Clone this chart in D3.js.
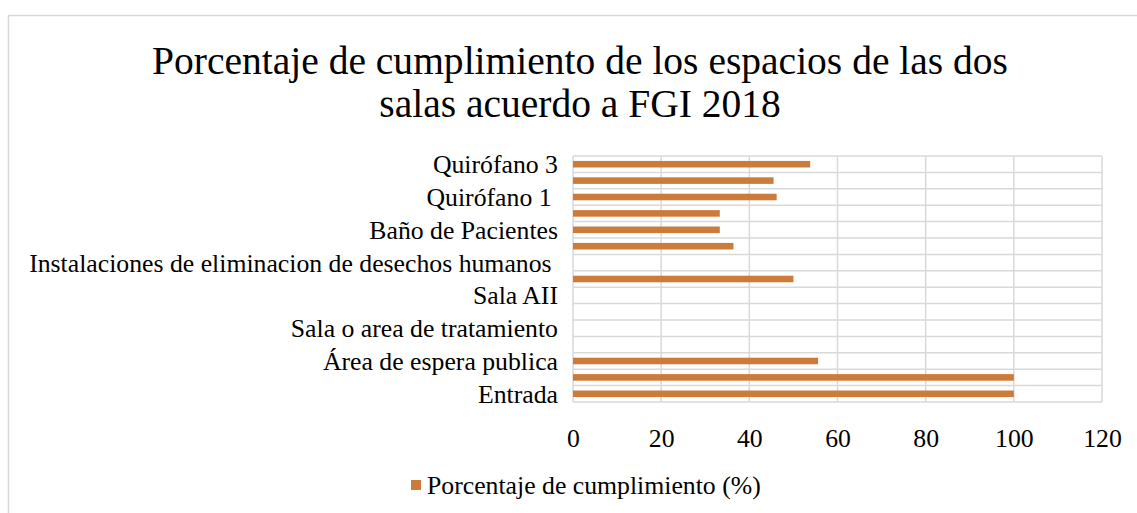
<!DOCTYPE html>
<html>
<head>
<meta charset="utf-8">
<script src="https://d3js.org/d3.v7.min.js"></script>
<style>
  body { margin: 0; background: #fff; }
  svg text { font-family: "Liberation Serif", "DejaVu Serif", serif; fill: #000; white-space: pre; }
</style>
</head>
<body>
<div id="chart"></div>
<script>
// categories bottom to top (alternate names are hidden by the axis, as in the original)
var categories = ["Entrada", "", "Área de espera publica", "", "Sala o area de tratamiento", "",
  "Sala AII", "", "Instalaciones de eliminacion de desechos humanos ", "", "Baño de Pacientes", "",
  "Quirófano 1 ", "", "Quirófano 3"];
var values = [100, 100, 55.6, 0, 0, 0, 0, 50, 0, 36.4, 33.3, 33.3, 46.2, 45.5, 53.8];
var xTicks = [0, 20, 40, 60, 80, 100, 120];
var titleLines = ["Porcentaje de cumplimiento de los espacios de las dos", "salas acuerdo a FGI 2018"];
var seriesName = "Porcentaje de cumplimiento (%)";

var svgWidth = 1137;
var svgHeight = 513;
var margin = { top: 156, right: 35, bottom: 111, left: 573 };
var width = svgWidth - margin.left - margin.right;
var height = svgHeight - margin.top - margin.bottom;
var barColor = "#CD7B3A";
var gridColor = "#D9D9D9";

var svg = d3.select("#chart").append("svg")
  .attr("width", svgWidth)
  .attr("height", svgHeight);

// chart area border
svg.append("rect")
  .attr("x", 8.5).attr("y", 15.5)
  .attr("width", 1140).attr("height", 520)
  .attr("fill", "none")
  .attr("stroke", gridColor)
  .attr("stroke-width", 1.5);

// fit a text element to a target width by changing its font size
function fitWidth(sel, target) {
  var fs = parseFloat(sel.attr("font-size"));
  var w = sel.node().getComputedTextLength();
  sel.attr("font-size", (fs * target / w).toFixed(2));
  return fs * target / w;
}

// title
var title = svg.append("g");
var t1 = title.append("text")
  .attr("x", 580).attr("y", 74)
  .attr("text-anchor", "middle")
  .attr("font-size", 32)
  .text(titleLines[0]);
var titleSize = fitWidth(t1, 856);
title.append("text")
  .attr("x", 580).attr("y", 117)
  .attr("text-anchor", "middle")
  .attr("font-size", titleSize)
  .text(titleLines[1]);

var chartGroup = svg.append("g")
  .attr("transform", `translate(${margin.left},${margin.top})`);

var xScale = d3.scaleLinear()
  .domain([0, 120])
  .range([0, width]);

var idx = d3.range(categories.length);
var yScale = d3.scaleBand()
  .domain(idx)
  .range([height, 0])
  .paddingInner(0.6)
  .paddingOuter(0.3);

// gridlines: vertical at ticks, horizontal at category boundaries
chartGroup.selectAll(".vgrid")
  .data(xTicks)
  .enter().append("line")
  .attr("class", "vgrid")
  .attr("x1", d => xScale(d)).attr("x2", d => xScale(d))
  .attr("y1", 0).attr("y2", height)
  .attr("stroke", gridColor)
  .attr("stroke-width", 1.5);

var step = height / categories.length;
chartGroup.selectAll(".hgrid")
  .data(d3.range(categories.length + 1))
  .enter().append("line")
  .attr("class", "hgrid")
  .attr("x1", 0).attr("x2", width)
  .attr("y1", d => d * step).attr("y2", d => d * step)
  .attr("stroke", gridColor)
  .attr("stroke-width", 1.5);

// bars
chartGroup.selectAll(".bar")
  .data(values)
  .enter().append("rect")
  .attr("class", "bar")
  .attr("x", xScale(0))
  .attr("y", (d, i) => yScale(i))
  .attr("width", d => xScale(d) - xScale(0))
  .attr("height", yScale.bandwidth())
  .attr("fill", barColor);

// category labels
var labels = chartGroup.selectAll(".catLabel")
  .data(categories)
  .enter().append("text")
  .attr("class", "catLabel")
  .attr("x", -15)
  .attr("y", (d, i) => yScale(i) + yScale.bandwidth() / 2)
  .attr("dy", "0.35em")
  .attr("text-anchor", "end")
  .attr("font-size", 18)
  .text(d => d);
var longest = labels.filter((d, i) => i === 8);
var labelSize = fitWidth(longest, 529);
labels.attr("font-size", labelSize);

// x axis
var bottomAxis = d3.axisBottom(xScale)
  .tickValues(xTicks)
  .tickSize(0)
  .tickPadding(27);
var xAxis = chartGroup.append("g")
  .attr("transform", `translate(0, ${height})`)
  .call(bottomAxis);
xAxis.select(".domain").remove();
xAxis.selectAll("text")
  .attr("font-size", labelSize)
  .style("font-family", "Liberation Serif, DejaVu Serif, serif")
  .attr("fill", "#000");

// legend
var legend = svg.append("g");
legend.append("rect")
  .attr("x", 411).attr("y", 480)
  .attr("width", 10).attr("height", 10)
  .attr("fill", barColor);
legend.append("text")
  .attr("x", 427).attr("y", 494)
  .attr("font-size", labelSize)
  .text(seriesName);
</script>
</body>
</html>
